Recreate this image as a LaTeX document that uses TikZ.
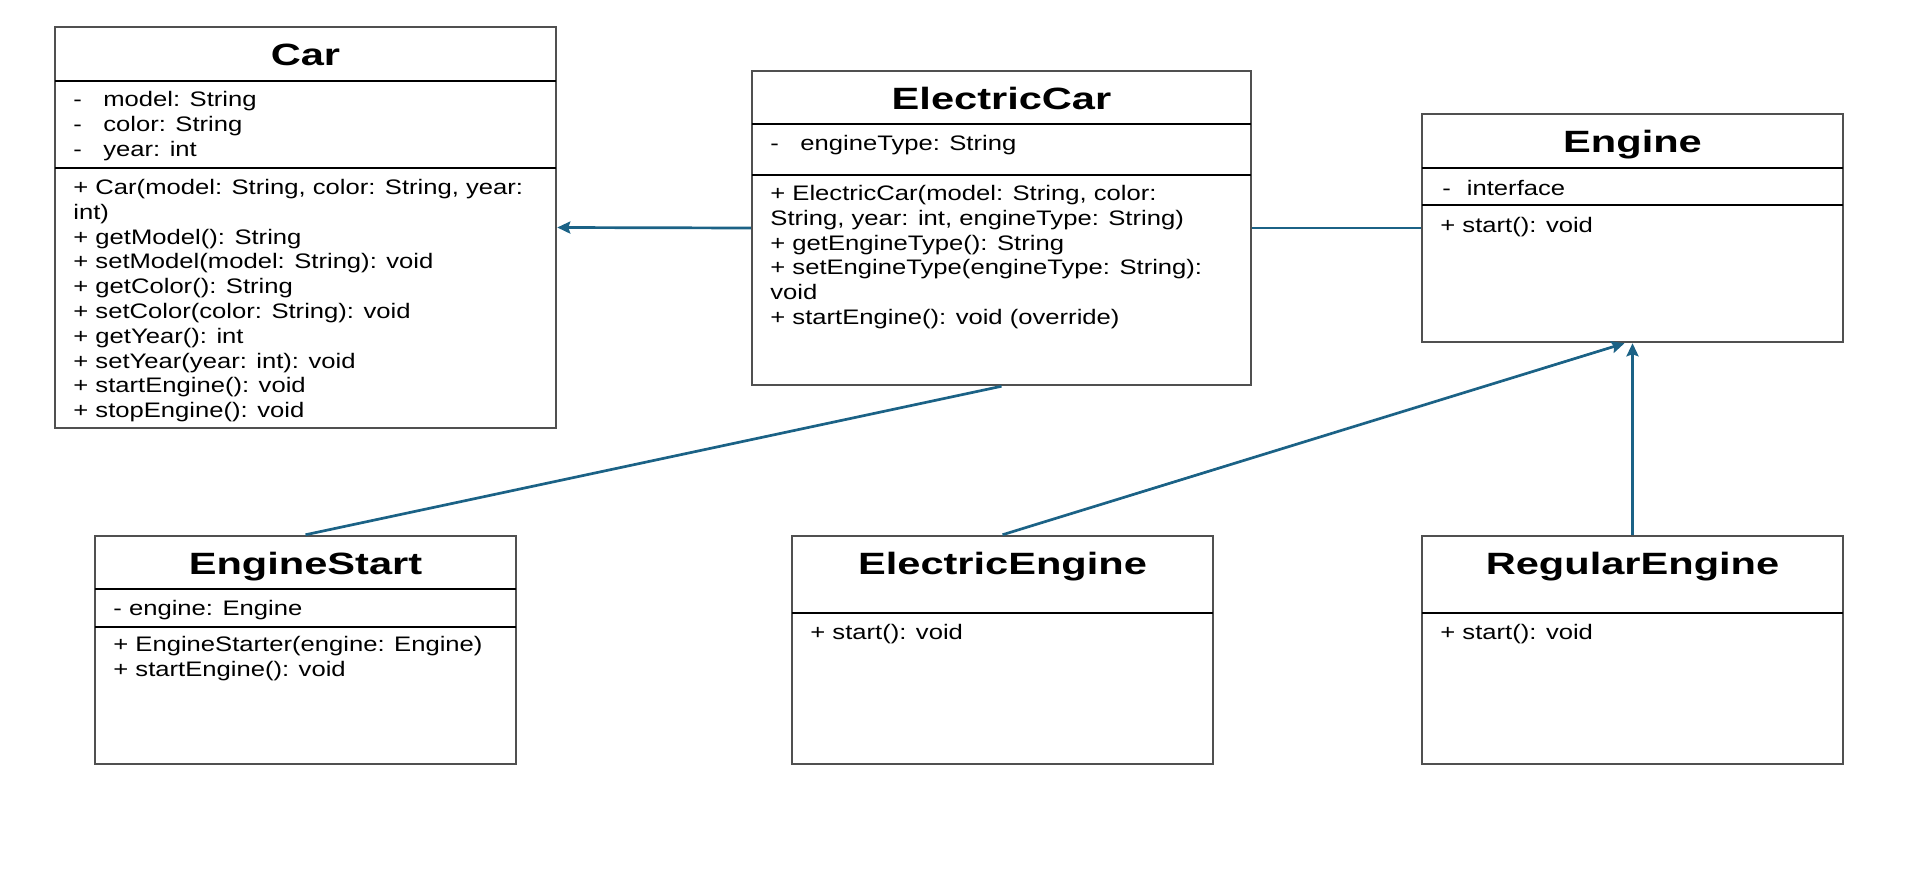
\documentclass[tikz,border=0pt]{standalone}
\usepackage{fontspec}
\usepackage{tikz}
\usetikzlibrary{arrows.meta}
\setmainfont[FakeStretch=1.22]{Liberation Sans}
\newfontfamily\titlefont[FakeStretch=1.35]{Liberation Sans}
\definecolor{link_blue}{HTML}{1B6286}
\definecolor{box_gray}{HTML}{505050}

\begin{document}
\begin{tikzpicture}[x=0.5pt, y=-0.5pt,
    classbox/.style={draw=box_gray, line width=1.25pt, inner sep=0pt},
    sepline/.style={black, line width=0.9pt},
    ctitle/.style={anchor=base, inner sep=0pt, font=\titlefont\fontsize{15.4}{18}\selectfont\bfseries},
    ctext/.style={anchor=base west, align=left, inner sep=0pt, font=\fontsize{10.5}{12.4}\selectfont},
    assoc/.style={draw=link_blue, line width=1.35pt},
    inherit/.style={assoc, -{Stealth[length=6.5pt, width=6pt, inset=1pt]}}]
    \useasboundingbox (0,0) rectangle (1914,888);

    % Classes (outlines)
    \node[classbox, minimum width=250.5pt, minimum height=200.5pt] (car) at (305.5,227.5) {};
    \node[classbox, minimum width=249.5pt, minimum height=157pt] (ecar) at (1001.5,228) {};
    \node[classbox, minimum width=210.5pt, minimum height=114pt] (engine) at (1632.5,228) {};
    \node[classbox, minimum width=210.5pt, minimum height=114pt] (estart) at (305.5,650) {};
    \node[classbox, minimum width=210.5pt, minimum height=114pt] (eeng) at (1002.5,650) {};
    \node[classbox, minimum width=210.5pt, minimum height=114pt] (reng) at (1632.5,650) {};

    % Compartments
    \draw[sepline] (55,81) -- (556,81);
    \draw[sepline] (55,168) -- (556,168);
    \draw[sepline] (752,124) -- (1251,124);
    \draw[sepline] (752,175) -- (1251,175);
    \draw[sepline] (1422,168) -- (1843,168);
    \draw[sepline] (1422,205) -- (1843,205);
    \draw[sepline] (95,589) -- (516,589);
    \draw[sepline] (95,627) -- (516,627);
    \draw[sepline] (792,613) -- (1213,613);
    \draw[sepline] (1422,613) -- (1843,613);

    % Car (text placed by its last baseline)
    \node[ctitle] (carT) at (305.5,66) {Car};
    \node[ctext] (carA) at (73,156.1) {-\hspace{10.7pt}model: String\\-\hspace{10.7pt}color: String\\-\hspace{10.7pt}year: int};
    \node[ctext] (carM) at (73,417.7) {+ Car(model: String, color: String, year:\\int)\\+ getModel(): String\\+ setModel(model: String): void\\+ getColor(): String\\+ setColor(color: String): void\\+ getYear(): int\\+ setYear(year: int): void\\+ startEngine(): void\\+ stopEngine(): void};

    % ElectricCar
    \node[ctitle] (ecarT) at (1001.5,110) {ElectricCar};
    \node[ctext] (ecarA) at (770,150.5) {-\hspace{10.7pt}engineType: String};
    \node[ctext] (ecarM) at (770,324.5) {+ ElectricCar(model: String, color:\\String, year: int, engineType: String)\\+ getEngineType(): String\\+ setEngineType(engineType: String):\\void\\+ startEngine(): void (override)};

    % Engine
    \node[ctitle] (engineT) at (1632.5,152) {Engine};
    \node[ctext] (engineA) at (1442,195.5) {-\hspace{8pt}interface};
    \node[ctext] (engineM) at (1440,232.5) {+ start(): void};

    % EngineStart
    \node[ctitle] (estartT) at (305.5,574) {EngineStart};
    \node[ctext] (estartA) at (113,615.5) {- engine: Engine};
    \node[ctext] (estartM) at (113,676) {+ EngineStarter(engine: Engine)\\+ startEngine(): void};

    % ElectricEngine and RegularEngine
    \node[ctitle] (eengT) at (1002.5,574) {ElectricEngine};
    \node[ctext] (eengM) at (810,639.5) {+ start(): void};
    \node[ctitle] (rengT) at (1632.5,574) {RegularEngine};
    \node[ctext] (rengM) at (1440,639.5) {+ start(): void};

    % Relations
    \draw[inherit] (ecar.west) -- (car.east);
    \draw[assoc] (ecar.east) -- (engine.west);
    \draw[assoc] (estart.north) -- (ecar.south);
    \draw[inherit] (eeng.north) -- ([xshift=-4pt]engine.south);
    \draw[inherit] (reng.north) -- (engine.south);
\end{tikzpicture}
\end{document}
